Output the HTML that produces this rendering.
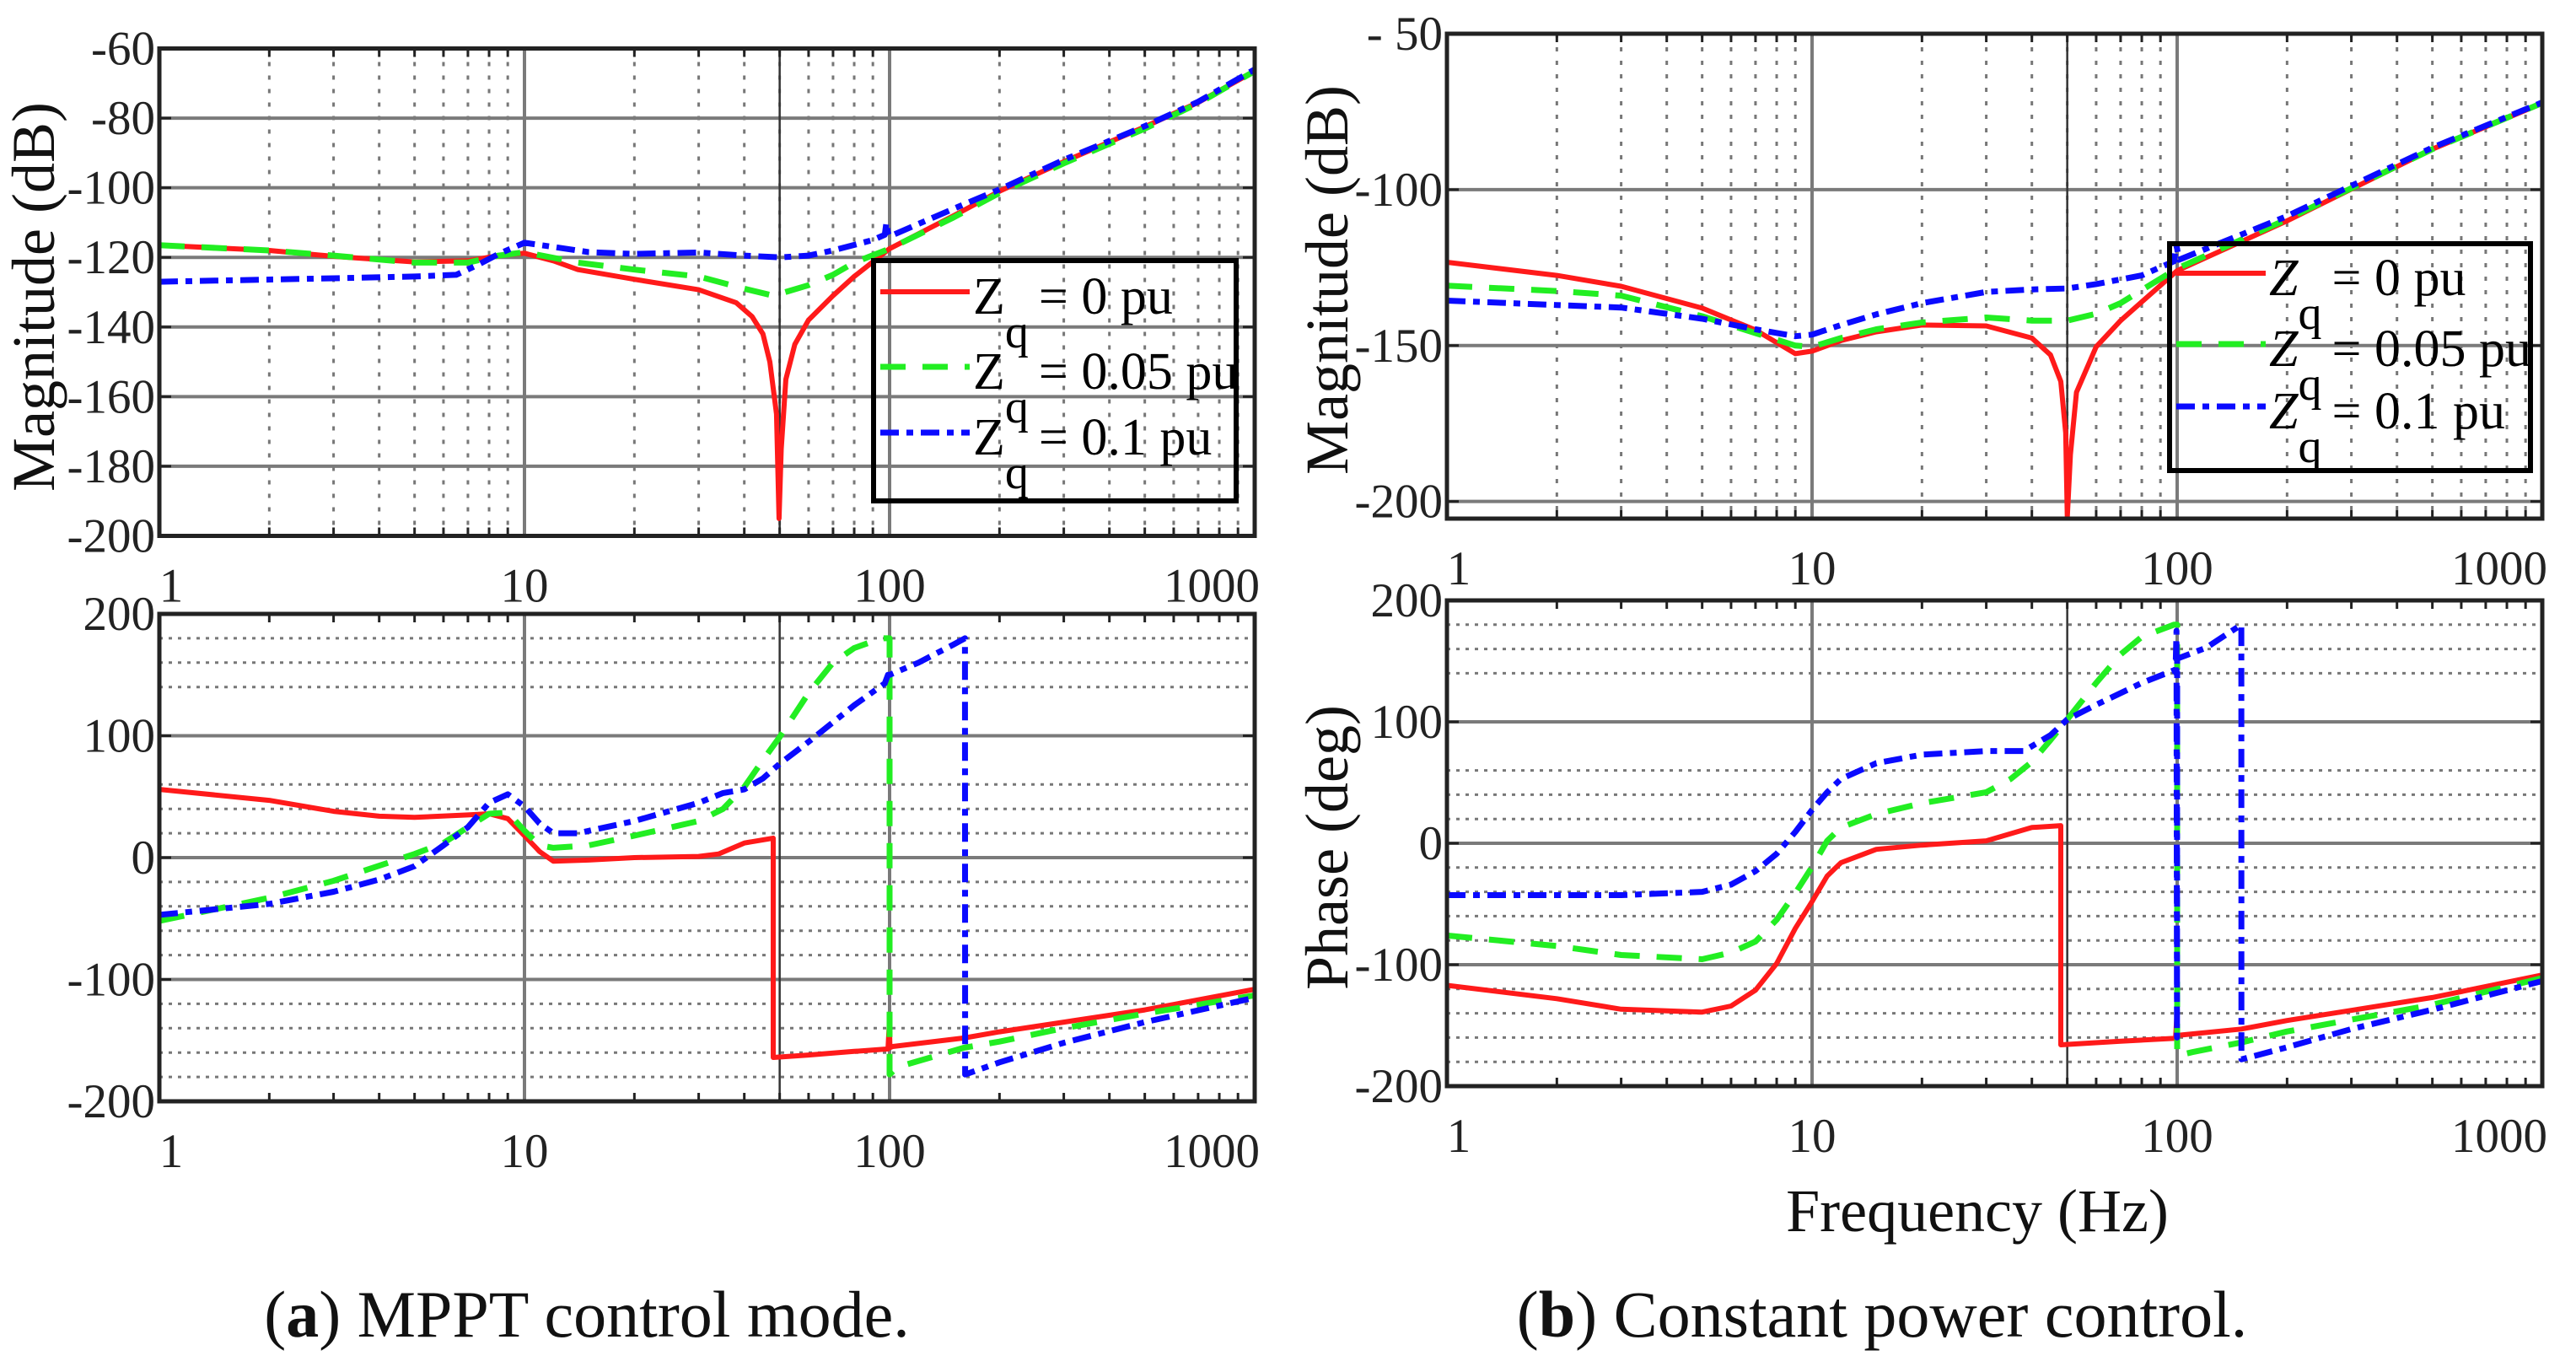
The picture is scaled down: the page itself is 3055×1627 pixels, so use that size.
<!DOCTYPE html>
<html><head><meta charset="utf-8"><style>
html,body{margin:0;padding:0;background:#fff;}
svg{display:block;font-family:"Liberation Serif",serif;}
</style></head><body>
<svg id="fig" width="3055" height="1627" viewBox="0 0 3055 1627" xmlns="http://www.w3.org/2000/svg">
<rect width="3055" height="1627" fill="#fff"/>
<g id="layer"></g>
<text transform="translate(64,352) rotate(-90)" text-anchor="middle" font-size="72" fill="#111">Magnitude (dB)</text>
<text transform="translate(1598,332) rotate(-90)" text-anchor="middle" font-size="72" fill="#111">Magnitude (dB)</text>
<text transform="translate(1598,1005) rotate(-90)" text-anchor="middle" font-size="72" fill="#111">Phase (deg)</text>
<text x="2345" y="1460" text-anchor="middle" font-size="72" fill="#111">Frequency (Hz)</text>
<text x="696" y="1585" text-anchor="middle" font-size="78" fill="#111">(<tspan font-weight="bold">a</tspan>) MPPT control mode.</text>
<text x="2232" y="1585" text-anchor="middle" font-size="78" fill="#111">(<tspan font-weight="bold">b</tspan>) Constant power control.</text>
</svg>
<script>
// ---------- data ----------
const magA_red_f=[1,2,3,5,7,8.5,10,12,14,20,30,38,42,45,47,49,49.8,50.5,52,55,60,70,80,100,150,200,300,500,700,1000];
const magA_red_v=[-116.5,-118,-119.7,-121.3,-121,-119.5,-118.8,-121,-123.5,-126.3,-129.3,-133,-137,-142,-150,-165,-195,-175,-155,-145,-138,-131,-125.5,-117.5,-108,-101,-92.5,-82.5,-75.5,-66.5];
const magA_green_f=[1,2,3,5,7,8.5,10,14,20,30,40,48,60,70,80,100,150,200,300,500,700,1000];
const magA_green_v=[-116.5,-118,-119.5,-121.5,-121.5,-119.5,-118.5,-121.5,-123.5,-125.5,-129,-131,-128,-125,-121.5,-117.5,-108.5,-101.5,-93,-83,-75.8,-66.5];
const magA_blue_f=[1,3,5,6.5,7.5,8.5,10,12,15,20,30,40,50,60,70,90,97,98,99,100,150,200,300,500,700,1000];
const magA_blue_v=[-127,-126,-125.5,-125,-122,-119,-115.8,-117,-118.5,-119,-118.6,-119.5,-120,-119.5,-118,-115,-113.5,-110,-113,-114,-106,-100.5,-92,-82.3,-75.3,-66];

const phA_red_f=[1,2,3,4,5,7,8,9,10,11,12,15,20,30,34,40,48,48.01,60,80,99,99.9,100.2,102,160,200,300,500,1000];
const phA_red_v=[56,47,38,34,33,35,36,32,18,5,-3,-2,0,1,3,12,16,-164,-162,-159,-157,-135,-156,-155,-148,-143,-135,-125,-108];
const phA_green_f=[1,2,3,5,6,7,8,9,10,11,12,15,20,30,35,40,45,50,60,70,80,95,99.99,100,105,160,200,300,500,1000];
const phA_green_v=[-52,-33,-19,3,12,25,36,37,22,10,8,10,18,30,40,58,80,99,135,160,172,180,180,-178,-172,-156,-151,-140,-128,-113];
const phA_blue_f=[1,2,3,4,5,6,7,8,9,10,11,12,14,20,30,35,40,45,50,60,80,97,99,100,120,150,160.9,161,200,300,500,1000];
const phA_blue_v=[-47,-38,-28,-18,-7,10,25,45,52,42,28,20,20,30,45,53,56,65,77,95,125,143,150,150,160,175,180,-178,-168,-152,-135,-115];

const magB_red_f=[1,2,3,5,7,9,10,12,15,20,30,40,45,48,49.5,50,51,53,60,70,80,100,200,500,1000];
const magB_red_v=[-123.3,-127.5,-131,-138,-145,-152.6,-151.8,-148.4,-145.6,-143.4,-143.7,-147.6,-153,-161.5,-178,-205,-185,-165,-150.4,-142,-136,-126,-110,-87,-72.3];
const magB_green_f=[1,2,3,5,7,9,10,12,15,20,30,40,50,60,70,80,100,200,500,1000];
const magB_green_v=[-130.8,-132.5,-134,-140.6,-146,-150,-150.4,-147.6,-144.8,-142.6,-141,-142,-142,-139.8,-136.4,-132.2,-125.3,-109.5,-87,-72.2];
const magB_blue_f=[1,2,3,5,7,9,10,12,15,20,30,40,50,60,80,98,99.5,100,101,200,500,1000];
const magB_blue_v=[-135.6,-137,-137.8,-141.4,-144.8,-147,-146.5,-143.4,-140,-136.4,-132.8,-132,-131.7,-130.3,-127.5,-123,-118,-119,-122.5,-108.5,-86.5,-72];

const phB_red_f=[1,2,3,5,6,7,8,9,10,11,12,15,20,30,40,48,48.01,70,99,99.9,100.2,102,150,200,500,1000];
const phB_red_v=[-117,-128,-136.7,-139,-134,-121,-99,-70,-48,-27,-16,-5,-1.5,2,13,14.5,-166,-163,-160.6,-140,-159,-158,-153,-146,-127,-108.5];
const phB_green_f=[1,2,3,5,6,7,8,9,10,11,12,15,20,30,35,40,45,50,60,70,80,98,99.99,100,110,150,200,500,1000];
const phB_green_v=[-76,-84.6,-92,-95.5,-90,-81,-63,-41,-19.5,2,13,24,33,42,53,67,85,102,132,155.5,170,180,180,-175,-172,-164,-155,-133,-111];
const phB_blue_f=[1,3,5,6,7,8,9,10,11,12,15,20,30,38,45,50,60,80,99,99.6,99.9,100,120,149.9,150,200,300,500,1000];
const phB_blue_v=[-42.7,-42.7,-40,-34,-23,-8.7,9.4,27.5,42,53,66,73,76,76,89,102,114,132,143,175,-160,152,161,180,-178,-168,-153,-137,-113.5];

const magA_ticks=[-60,-80,-100,-120,-140,-160,-180,-200];
const magB_ticks=[-50,-100,-150,-200];
const ph_ticks=[200,100,0,-100,-200];
const x_ticks=[1,10,100,1000];
const legend_labels=["= 0  pu","= 0.05 pu","= 0.1 pu"];

// ---------- drawing ----------
const NS="http://www.w3.org/2000/svg";
const layer=document.getElementById('layer');
function mk(tag,attrs,parent){const e=document.createElementNS(NS,tag);for(const k in attrs)e.setAttribute(k,attrs[k]);(parent||layer).appendChild(e);return e;}
const DEC=433;
const COL={red:"#ff1a1a",green:"#22ee22",blue:"#0a0aff"};
const DASH={red:"",green:"30 20",blue:"22 9 8 9"};
const WID={red:6,green:7,blue:7};

function plot(name,L,T,B,ymax,ymin,yticks,isPhase,series,tickFmt,labelOffset){
  const R=L+3*DEC;
  const g=mk('g',{});
  
  
  const xf=f=>L+Math.log10(f)*DEC;
  const yf=v=>T+(ymax-v)/(ymax-ymin)*(B-T);
  const clipId=name+'-clip';
  const cp=mk('clipPath',{id:clipId},g);mk('rect',{x:L,y:T-6,width:R-L,height:B-T+12},cp);
  if(isPhase){
    for(let v=-180;v<=180;v+=20){ if(v%100===0)continue; if(v===80||v===120)continue;
      const l=mk('line',{x1:L,x2:R,y1:yf(v),y2:yf(v),stroke:"#777","stroke-width":3,"stroke-dasharray":"4 7"},g);
      }
  } else {
    for(let d=0;d<3;d++)for(let m=2;m<=9;m++){const x=xf(m*Math.pow(10,d));
      const l=mk('line',{x1:x,x2:x,y1:T,y2:B,stroke:"#777","stroke-width":3,"stroke-dasharray":"5 11"},g);
      }
  }
  yticks.forEach(v=>{const y=yf(v);if(Math.abs(y-T)<2||Math.abs(y-B)<2)return;
    const l=mk('line',{x1:L,x2:R,y1:y,y2:y,stroke:"#7a7a7a","stroke-width":4},g);
    });
  [10,100].forEach(f=>{const l=mk('line',{x1:xf(f),x2:xf(f),y1:T,y2:B,stroke:"#7a7a7a","stroke-width":4},g);
    });
  const l50=mk('line',{x1:xf(50),x2:xf(50),y1:T,y2:B,stroke:"#333","stroke-width":2.5},g);
  
  for(let d=0;d<3;d++)for(let m=2;m<=9;m++){const x=xf(m*Math.pow(10,d));
    mk('line',{x1:x,x2:x,y1:B,y2:B-10,stroke:"#222","stroke-width":3},g);mk('line',{x1:x,x2:x,y1:T,y2:T+10,stroke:"#222","stroke-width":3},g);}
  yticks.forEach(v=>{const y=yf(v);mk('line',{x1:L,x2:L+14,y1:y,y2:y,stroke:"#222","stroke-width":3},g);mk('line',{x1:R,x2:R-14,y1:y,y2:y,stroke:"#222","stroke-width":3},g);});
  series.forEach(s=>{
    const pts=s.f.map((f,i)=>xf(f).toFixed(1)+','+yf(s.v[i]).toFixed(1)).join(' ');
    const p=mk('polyline',{points:pts,fill:'none',stroke:COL[s.c],'stroke-width':WID[s.c],'stroke-dasharray':DASH[s.c],'stroke-linejoin':'round','clip-path':'url(#'+clipId+')'},g);
    
    
  });
  const fr=mk('rect',{x:L,y:T,width:R-L,height:B-T,fill:'none',stroke:'#222','stroke-width':5},g);
  
  yticks.forEach(v=>{const t=mk('text',{x:L-5,y:yf(v)+19,'text-anchor':'end','font-size':57,fill:'#222'},g);t.textContent=tickFmt(v);
    });
  x_ticks.forEach((f,i)=>{let x=xf(f),a='middle';if(i===0){x=L+14;}if(i===3){x=R+6;a='end';}
    const t=mk('text',{x:x,y:B+labelOffset,'text-anchor':a,'font-size':57,fill:'#222'},g);t.textContent=String(f);
    });
}
const fmtA=v=>String(v);
plot('mag-plot-a',189,57.5,635.5,-60,-200,magA_ticks,false,[
 {c:'red',f:magA_red_f,v:magA_red_v},{c:'green',f:magA_green_f,v:magA_green_v},{c:'blue',f:magA_blue_f,v:magA_blue_v}],fmtA,78);
plot('phase-plot-a',189,728,1306,200,-200,ph_ticks,true,[
 {c:'red',f:phA_red_f,v:phA_red_v},{c:'green',f:phA_green_f,v:phA_green_v},{c:'blue',f:phA_blue_f,v:phA_blue_v}],fmtA,78);
plot('mag-plot-b',1716,40,615,-50,-205.5,magB_ticks,false,[
 {c:'red',f:magB_red_f,v:magB_red_v},{c:'green',f:magB_green_f,v:magB_green_v},{c:'blue',f:magB_blue_f,v:magB_blue_v}],v=>v===-50?'- 50':String(v),78);
plot('phase-plot-b',1716,712,1288,200,-200,ph_ticks,true,[
 {c:'red',f:phB_red_f,v:phB_red_v},{c:'green',f:phB_green_f,v:phB_green_v},{c:'blue',f:phB_blue_f,v:phB_blue_v}],fmtA,78);

function legend(name,x0,y0,w,h,rows,italic){
  const g=mk('g',{});
  
  
  mk('rect',{x:x0,y:y0,width:w,height:h,fill:'none',stroke:'#000','stroke-width':6},g);
  const cols=['red','green','blue'];
  cols.forEach((c,i)=>{const ry=y0+rows[i];
    const ln=mk('line',{x1:x0+8,x2:x0+114,y1:ry,y2:ry,stroke:COL[c],'stroke-width':WID[c],'stroke-dasharray':DASH[c]},g);
    
    const t=mk('text',{x:x0+118,y:ry+26,'font-size':62,fill:'#000'},g);
    
    const z=mk('tspan',{'font-style':italic?'italic':'normal'},t);z.textContent='Z';
    const q=mk('tspan',{dy:40,'font-size':56},t);q.textContent='q';
    const r=mk('tspan',{dy:-40,dx:12},t);r.textContent=legend_labels[i];
  });
}
legend('legend-a',1036,309,430,285,[37,126,204],false);
legend('legend-b',2573,289,428,269,[35,119,193],true);
</script>
</body></html>
